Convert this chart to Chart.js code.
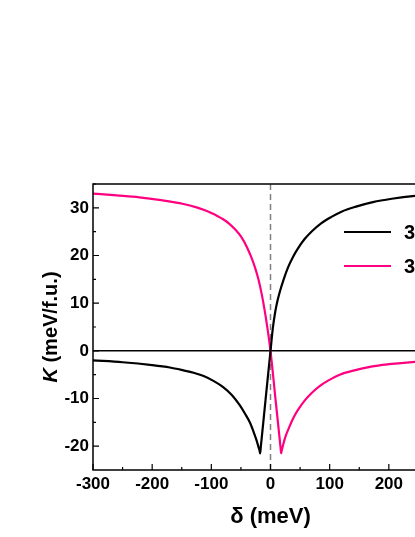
<!DOCTYPE html>
<html>
<head>
<meta charset="utf-8">
<script src="https://cdn.jsdelivr.net/npm/chart.js@4/dist/chart.umd.min.js"></script>
<style>
    html, body { margin: 0; padding: 0; background: #fff; overflow: hidden; }
    #wrap { width: 520px; height: 537px; position: relative; }
</style>
</head>
<body>
<div id="wrap"><canvas id="kChart"></canvas></div>
<script>
// values
const deltaBlack = [-300, -250, -200, -170, -147, -130, -113, -95, -80, -65, -52, -43, -35, -28, -23, -20, -18.5, -17.5,
    -16.5, -8, 0, 4, 8, 12, 16, 22, 30, 38, 47, 58, 70, 85, 103, 120, 143, 173, 205, 244, 300];
const kBlack = [-2.0, -2.4, -3.0, -3.5, -4.1, -4.6, -5.3, -6.4, -7.6, -9.3, -11.4, -13.2, -15.0, -17.2, -19.0, -20.3, -20.9, -21.5,
    -20.3, -9.8, 0, 4.8, 8.2, 10.6, 12.5, 14.9, 17.6, 19.7, 21.6, 23.5, 25.1, 26.7, 28.1, 29.2, 30.2, 31.2, 31.9, 32.5, 33.0];

const deltaPink = [-300, -260, -222, -185, -147, -125, -113, -100, -90, -80, -70, -60, -50, -40, -33, -26, -20, -15, -10, -5,
    0, 9, 17, 18, 19, 21, 25, 31, 39, 47, 58, 70, 83, 98, 117, 142, 170, 200, 244, 300];
const kPink = [33.0, 32.6, 32.2, 31.6, 30.8, 30.1, 29.6, 28.9, 28.3, 27.6, 26.7, 25.5, 24.0, 21.8, 19.8, 17.4, 14.8, 12.0, 8.6, 4.6,
    0, -10.8, -20.3, -21.5, -20.9, -19.9, -18.1, -16.2, -14.0, -12.3, -10.4, -8.8, -7.4, -6.2, -5.0, -4.1, -3.3, -2.8, -2.3, -1.9];

const seriesLabels = ["3d⁶", "3d⁷"];
const seriesColors = ["#000000", "#ff0080"];
const xTickValues = [-300, -200, -100, 0, 100, 200, 300];
const yTickValues = [-20, -10, 0, 10, 20, 30];

const FONT = "Arial, 'Liberation Sans', sans-serif";

function toPoints(xs, ys) {
    return xs.map((x, i) => ({ x: x, y: ys[i] }));
}

const decorPlugin = {
    id: "decor",
    beforeDatasetsDraw(chart) {
        const { ctx, chartArea: a, scales: { x, y } } = chart;
        ctx.save();
        // dashed line at delta = 0
        ctx.strokeStyle = "#808080";
        ctx.lineWidth = 1.5;
        ctx.setLineDash([6, 4]);
        const x0 = x.getPixelForValue(0);
        ctx.beginPath();
        ctx.moveTo(x0, a.top);
        ctx.lineTo(x0, a.bottom);
        ctx.stroke();
        ctx.setLineDash([]);
        // zero line
        ctx.strokeStyle = "#000";
        const y0 = y.getPixelForValue(0);
        ctx.beginPath();
        ctx.moveTo(a.left, y0);
        ctx.lineTo(a.right, y0);
        ctx.stroke();
        ctx.restore();
    },
    afterDraw(chart) {
        const { ctx, chartArea: a, scales: { x, y } } = chart;
        ctx.save();
        ctx.strokeStyle = "#000";
        ctx.lineWidth = 1.5;
        ctx.strokeRect(a.left, a.top, a.right - a.left, a.bottom - a.top);

        // inward ticks, major and minor
        ctx.lineWidth = 1.2;
        ctx.beginPath();
        for (let v = -300; v <= 300; v += 50) {
            const px = x.getPixelForValue(v);
            const len = v % 100 === 0 ? 6 : 3;
            ctx.moveTo(px, a.bottom);
            ctx.lineTo(px, a.bottom - len);
        }
        for (let v = -20; v <= 35; v += 5) {
            const py = y.getPixelForValue(v);
            const len = v % 10 === 0 ? 6 : 3;
            ctx.moveTo(a.left, py);
            ctx.lineTo(a.left + len, py);
        }
        ctx.stroke();

        // legend
        chart.data.datasets.forEach((ds, i) => {
            const ly = 232 + i * 34;
            ctx.strokeStyle = ds.borderColor;
            ctx.lineWidth = 2.2;
            ctx.beginPath();
            ctx.moveTo(344, ly);
            ctx.lineTo(391, ly);
            ctx.stroke();
            ctx.fillStyle = "#000";
            ctx.font = "bold 20px " + FONT;
            ctx.textBaseline = "middle";
            ctx.textAlign = "left";
            ctx.fillText(ds.label, 404, ly + 1);
        });

        // x title
        ctx.fillStyle = "#000";
        ctx.textAlign = "center";
        ctx.textBaseline = "middle";
        ctx.font = "bold 22px " + FONT;
        ctx.fillText("δ (meV)", (a.left + a.right) / 2, 517);

        // y title with italic K
        ctx.translate(51, (a.top + a.bottom) / 2);
        ctx.rotate(-Math.PI / 2);
        ctx.textAlign = "left";
        const fK = "italic bold 20px " + FONT;
        const fRest = "bold 20px " + FONT;
        ctx.font = fK;
        const wK = ctx.measureText("K").width;
        ctx.font = fRest;
        const wRest = ctx.measureText(" (meV/f.u.)").width;
        const start = -(wK + wRest) / 2;
        ctx.font = fK;
        ctx.fillText("K", start, 0);
        ctx.font = fRest;
        ctx.fillText(" (meV/f.u.)", start + wK, 0);
        ctx.restore();
    },
};

function initChart() {
    const ctx = document.getElementById("kChart").getContext("2d");
    const lineStyle = {
        borderWidth: 2.2,
        pointRadius: 0,
        cubicInterpolationMode: "monotone",
        tension: 0.4,
        fill: false,
    };
    new Chart(ctx, {
        type: "line",
        data: {
            datasets: [
                Object.assign({
                    label: seriesLabels[0],
                    data: toPoints(deltaBlack, kBlack),
                    borderColor: seriesColors[0],
                }, lineStyle),
                Object.assign({
                    label: seriesLabels[1],
                    data: toPoints(deltaPink, kPink),
                    borderColor: seriesColors[1],
                }, lineStyle),
            ],
        },
        options: {
            responsive: true,
            maintainAspectRatio: false,
            animation: false,
            layout: { padding: { top: 184, right: 72, left: 0, bottom: 0 } },
            plugins: {
                legend: { display: false },
                tooltip: { enabled: false },
            },
            scales: {
                x: {
                    type: "linear",
                    min: -300,
                    max: 300,
                    afterBuildTicks: (s) => { s.ticks = xTickValues.map((v) => ({ value: v })); },
                    afterFit: (s) => { s.height = 67; },
                    grid: { display: false, drawTicks: false },
                    border: { display: false },
                    ticks: {
                        color: "#000",
                        padding: 4,
                        maxRotation: 0,
                        font: { family: FONT, size: 17, weight: "bold" },
                    },
                },
                y: {
                    min: -25,
                    max: 35,
                    afterBuildTicks: (s) => { s.ticks = yTickValues.map((v) => ({ value: v })); },
                    afterFit: (s) => { s.width = 93; },
                    grid: { display: false, drawTicks: false },
                    border: { display: false },
                    ticks: {
                        color: "#000",
                        padding: 4,
                        font: { family: FONT, size: 17, weight: "bold" },
                    },
                },
            },
        },
        plugins: [decorPlugin],
    });
}

document.addEventListener("DOMContentLoaded", initChart);
</script>
</body>
</html>
